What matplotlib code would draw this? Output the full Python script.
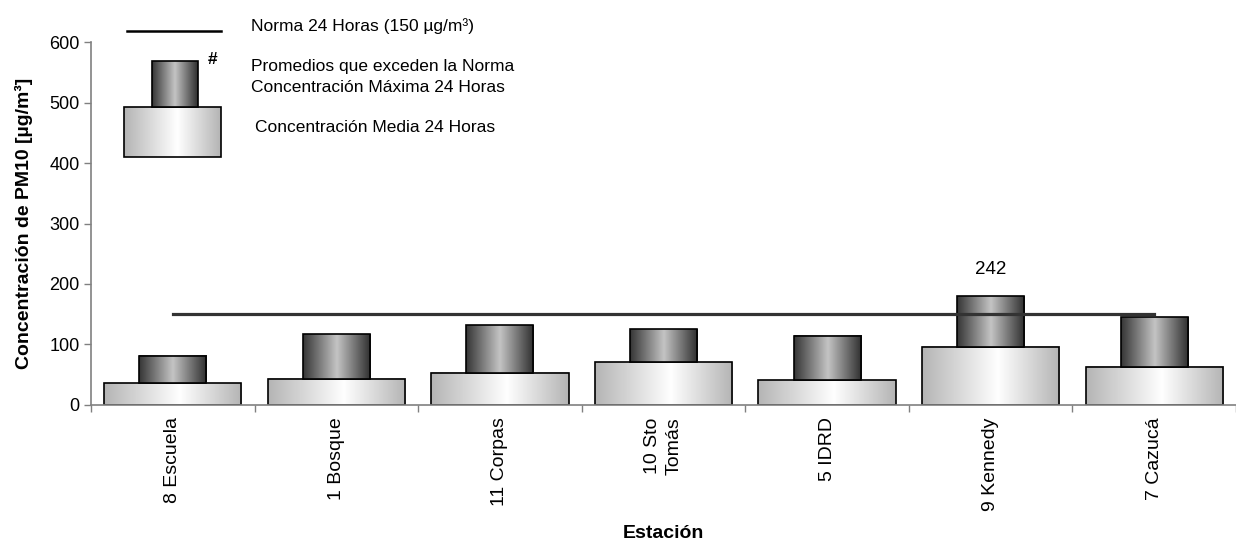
import matplotlib
matplotlib.use("Agg")
import matplotlib.pyplot as plt
import numpy as np
from matplotlib.colors import LinearSegmentedColormap
from matplotlib.patches import Rectangle

plt.rcParams["font.family"] = ["Liberation Sans", "DejaVu Sans"]

# datos (µg/m3)
estaciones = ["8 Escuela", "1 Bosque", "11 Corpas", "10 Sto\nTomás",
              "5 IDRD", "9 Kennedy", "7 Cazucá"]
media_24h = [36, 43, 53, 71, 41, 96, 63]
maxima_24h = [81, 117, 132, 125, 114, 180, 145]
etiquetas_max = ["", "", "", "", "", "242", ""]
norma_24h = 150

claro = LinearSegmentedColormap.from_list(
    "claro", [(0, "#b4b4b4"), (0.55, "#ffffff"), (1, "#b4b4b4")])
oscuro = LinearSegmentedColormap.from_list(
    "oscuro", [(0, "#353535"), (0.5, "#c4c4c4"), (1, "#2e2e2e")])
grad = np.linspace(0, 1, 256)[None, :]


def barra_gradiente(ax, x0, x1, y0, y1, cmap, z):
    ax.imshow(grad, extent=(x0, x1, y0, y1), cmap=cmap, aspect="auto",
              interpolation="bilinear", zorder=z)
    ax.add_patch(Rectangle((x0, y0), x1 - x0, y1 - y0, fill=False,
                           edgecolor="black", linewidth=1.2, zorder=z + 0.1))


fig = plt.figure(figsize=(12.36, 5.45), dpi=100)
ax = fig.add_axes([0.0736, 0.2569, 0.9264, 0.666])

x = np.arange(len(estaciones))
w_media, w_max = 0.84, 0.41
for i in x:
    barra_gradiente(ax, i - w_media / 2, i + w_media / 2, 0, media_24h[i], claro, 2)
    barra_gradiente(ax, i - w_max / 2, i + w_max / 2, media_24h[i], maxima_24h[i], oscuro, 3)
    if etiquetas_max[i]:
        ax.annotate(etiquetas_max[i], (i, maxima_24h[i]), xytext=(0, 19),
                    textcoords="offset points", ha="center", va="center",
                    fontsize=13.5, zorder=6)

# norma 24 horas
ax.plot([x[0], x[-1]], [norma_24h, norma_24h], color="#333333", lw=2.3, zorder=5)

ax.set_xlim(-0.5, len(estaciones) - 0.5)
ax.set_ylim(0, 600)
ax.set_yticks(range(0, 601, 100))
ax.set_xticks(x)
ax.set_xticklabels(estaciones, rotation=90, fontsize=14, va="top", ha="center",
                   multialignment="right", linespacing=1.35)
ax.set_xticks(np.arange(-0.5, len(estaciones)), minor=True)
ax.tick_params(axis="x", which="major", length=0, pad=9)
ax.tick_params(axis="x", which="minor", length=5, color="#808080", width=1)
ax.tick_params(axis="y", length=5, color="#808080", width=1, labelsize=13, pad=3)
for s in ["top", "right"]:
    ax.spines[s].set_visible(False)
for s in ["left", "bottom"]:
    ax.spines[s].set_color("#808080")
    ax.spines[s].set_linewidth(1.2)

ax.set_ylabel("Concentración de PM10 [µg/m³]", fontsize=14, fontweight="bold", labelpad=12)
ax.set_xlabel("Estación", fontsize=14, fontweight="bold", labelpad=10)

# leyenda dibujada en pixeles de la figura
lg = fig.add_axes([0, 0, 1, 1], zorder=10)
lg.set_xlim(0, 1236)
lg.set_ylim(545, 0)
lg.axis("off")
lg.patch.set_alpha(0)
lg.plot([127, 221], [31, 31], color="black", lw=1.8)
barra_gradiente(lg, 124, 221, 157, 107, claro, 2)
barra_gradiente(lg, 152, 198, 107, 61, oscuro, 3)
lg.set_xlim(0, 1236)
lg.set_ylim(545, 0)
lg.text(213, 59, "#", fontsize=12.5, fontweight="bold", ha="center", va="center")
lg.text(251, 26, "Norma 24 Horas (150 µg/m³)", fontsize=12.5, va="center")
lg.text(251, 66, "Promedios que exceden la Norma", fontsize=12.5, va="center")
lg.text(251, 87, "Concentración Máxima 24 Horas", fontsize=12.5, va="center")
lg.text(255, 128, "Concentración Media 24 Horas", fontsize=12.5, va="center")

fig.savefig("out.png", dpi=100)
